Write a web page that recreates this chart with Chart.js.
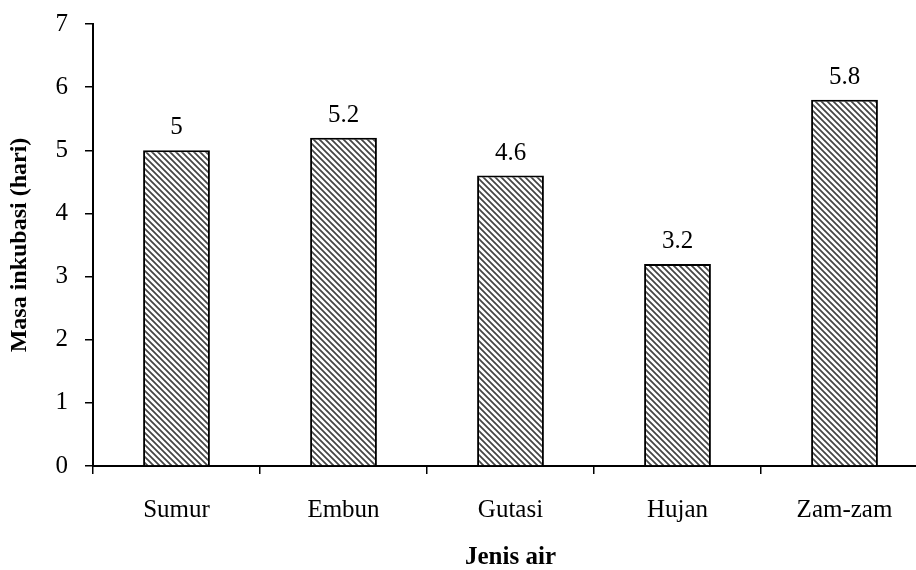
<!DOCTYPE html>
<html>
<head>
<meta charset="utf-8">
<script src="https://cdn.jsdelivr.net/npm/chart.js@4"></script>
<style>
  html, body { margin: 0; padding: 0; background: #fff; }
  #wrap { width: 916px; height: 570px; overflow: hidden; position: relative; }
  canvas { position: absolute; left: 0; top: 0; }
</style>
</head>
<body>
<div id="wrap"><canvas id="chart" width="940" height="570"></canvas></div>
<script>
const categories = ["Sumur", "Embun", "Gutasi", "Hujan", "Zam-zam"];
const incubation = [5, 5.2, 4.6, 3.2, 5.8];
const yTicks = [0, 1, 2, 3, 4, 5, 6, 7];

// diagonal hatch fill like the original bars
function makeHatch() {
    const size = 6;
    const c = document.createElement("canvas");
    c.width = size;
    c.height = size;
    const g = c.getContext("2d");
    g.fillStyle = "#fff";
    g.fillRect(0, 0, size, size);
    g.strokeStyle = "#444";
    g.lineWidth = 1.7;
    g.beginPath();
    g.moveTo(-1, -1); g.lineTo(size + 1, size + 1);
    g.moveTo(-1, size - 1); g.lineTo(1, size + 1);
    g.moveTo(size - 1, -1); g.lineTo(size + 1, 1);
    g.stroke();
    return g.createPattern(c, "repeat");
}

const font = "'Liberation Serif', 'Times New Roman', serif";

// value labels above each bar
const valueLabels = {
    id: "valueLabels",
    afterDatasetsDraw(chart) {
        const ctx = chart.ctx;
        const meta = chart.getDatasetMeta(0);
        ctx.save();
        ctx.font = "25px " + font;
        ctx.fillStyle = "#000";
        ctx.textAlign = "center";
        ctx.textBaseline = "alphabetic";
        meta.data.forEach((bar, i) => {
            ctx.fillText(String(incubation[i]), bar.x, bar.y - 16);
        });
        ctx.restore();
    }
};

const ctx = document.getElementById("chart").getContext("2d");
new Chart(ctx, {
    type: "bar",
    data: {
        labels: categories,
        datasets: [{
            data: incubation,
            backgroundColor: makeHatch(),
            borderColor: "#000",
            borderWidth: 2,
            barPercentage: 0.4,
            categoryPercentage: 1
        }]
    },
    options: {
        responsive: false,
        animation: false,
        layout: { padding: { top: 24, left: 0, right: 12, bottom: 0 } },
        plugins: {
            legend: { display: false },
            tooltip: { enabled: false }
        },
        scales: {
            x: {
                afterFit(scale) {
                    scale.height = 104;
                    scale.paddingLeft = 0;
                    scale.paddingRight = 0;
                },
                grid: {
                    display: true,
                    drawOnChartArea: false,
                    offset: true,
                    color: "#000",
                    lineWidth: 1.5,
                    tickLength: 8
                },
                border: { color: "#000", width: 2 },
                ticks: {
                    color: "#000",
                    font: { family: font, size: 25 },
                    padding: 21,
                    maxRotation: 0
                },
                title: {
                    display: true,
                    text: "Jenis air",
                    color: "#000",
                    font: { family: font, size: 25, weight: "bold", lineHeight: 1.0 },
                    padding: { top: 1, bottom: 0 }
                }
            },
            y: {
                min: 0,
                max: 7,
                afterFit(scale) {
                    scale.width = 93;
                    scale.paddingTop = 0;
                    scale.paddingBottom = 0;
                },
                afterBuildTicks(scale) {
                    scale.ticks = yTicks.map(v => ({ value: v }));
                },
                grid: {
                    display: true,
                    drawOnChartArea: false,
                    color: "#000",
                    lineWidth: 1.5,
                    tickLength: 8
                },
                border: { color: "#000", width: 2 },
                ticks: {
                    color: "#000",
                    font: { family: font, size: 25 },
                    padding: 17
                },
                title: {
                    display: true,
                    text: "Masa inkubasi (hari)",
                    color: "#000",
                    font: { family: font, size: 24, weight: "bold" },
                    padding: { top: 5, bottom: 0 }
                }
            }
        }
    },
    plugins: [valueLabels]
});
</script>
</body>
</html>
